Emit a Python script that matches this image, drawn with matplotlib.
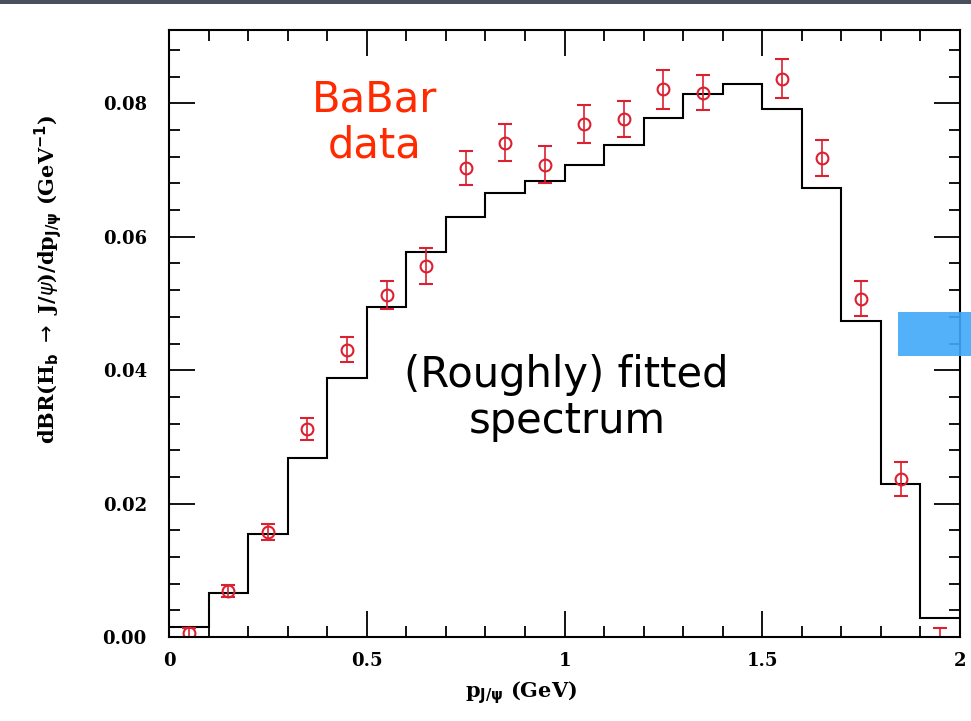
import numpy as np
import matplotlib
matplotlib.use("Agg")
import matplotlib.pyplot as plt
from matplotlib.patches import Rectangle
from matplotlib.ticker import MultipleLocator, FixedLocator, FixedFormatter

# Fitted spectrum: 0.1 GeV bins from 0 to 2 GeV
bin_edges = [0.0, 0.1, 0.2, 0.3, 0.4, 0.5, 0.6, 0.7, 0.8, 0.9, 1.0,
             1.1, 1.2, 1.3, 1.4, 1.5, 1.6, 1.7, 1.8, 1.9, 2.0]
fit_values = [0.0015, 0.0066, 0.0154, 0.0268, 0.0389, 0.0494, 0.0577, 0.0630,
              0.0665, 0.0683, 0.0708, 0.0738, 0.0778, 0.0814, 0.0829, 0.0792,
              0.0673, 0.0474, 0.0229, 0.0029]

# Measured points (BaBar)
p_data = [0.05, 0.15, 0.25, 0.35, 0.45, 0.55, 0.65, 0.75, 0.85, 0.95,
          1.05, 1.15, 1.25, 1.35, 1.55, 1.65, 1.75, 1.85, 1.95]
br_data = [0.0006, 0.0069, 0.0158, 0.0312, 0.0431, 0.0513, 0.0556, 0.0703,
           0.0741, 0.0708, 0.0769, 0.0776, 0.0821, 0.0816, 0.0837, 0.0718,
           0.0507, 0.0237, -0.0012]
br_err = [0.0007, 0.0009, 0.0012, 0.0017, 0.0019, 0.0021, 0.0027, 0.0026,
          0.0028, 0.0028, 0.0029, 0.0027, 0.0029, 0.0026, 0.0029, 0.0027,
          0.0026, 0.0025, 0.0026]

x_ticks = [0, 0.5, 1, 1.5, 2]
x_ticklabels = ["0", "0.5", "1", "1.5", "2"]
y_ticks = [0.00, 0.02, 0.04, 0.06, 0.08]
y_ticklabels = ["0.00", "0.02", "0.04", "0.06", "0.08"]

W, H = 971, 721
fig = plt.figure(figsize=(W / 100, H / 100), dpi=100)
fig.patch.set_facecolor("white")

def fx(px):
    return px / W

def fy(py):
    return 1 - py / H

ax_l, ax_r, ax_t, ax_b = 169, 960, 30, 637
ax = fig.add_axes([fx(ax_l), fy(ax_b), (ax_r - ax_l) / W, (ax_b - ax_t) / H])

ax.stairs(fit_values, bin_edges, color="black", linewidth=1.5, baseline=None)

red = "#dc2030"
ax.errorbar(p_data, br_data, yerr=br_err, fmt="o", color=red,
            markerfacecolor="none", markeredgecolor=red, markersize=8.5,
            markeredgewidth=1.5, elinewidth=1.2, capsize=5, capthick=1.2,
            clip_on=True)

ax.set_xlim(0, 2)
ax.set_ylim(0, 0.091)

for s in ax.spines.values():
    s.set_linewidth(1.5)

ax.xaxis.set_major_locator(FixedLocator(x_ticks))
ax.xaxis.set_major_formatter(FixedFormatter(x_ticklabels))
ax.xaxis.set_minor_locator(MultipleLocator(0.1))
ax.yaxis.set_major_locator(FixedLocator(y_ticks))
ax.yaxis.set_major_formatter(FixedFormatter(y_ticklabels))
ax.yaxis.set_minor_locator(MultipleLocator(0.004))

ax.tick_params(which="both", direction="in", top=True, right=True, width=1.3)
ax.tick_params(which="major", length=19)
ax.tick_params(which="minor", length=8)
ax.tick_params(axis="x", which="major", pad=11)
ax.tick_params(axis="y", which="major", pad=16)

for lab in ax.get_xticklabels() + ax.get_yticklabels():
    lab.set_fontfamily("DejaVu Serif")
    lab.set_fontweight("bold")
    lab.set_fontsize(13)

# Axis titles
fig.text(fx(521), fy(693), r"p$_{\mathbf{J/\psi}}$ (GeV)", ha="center", va="center",
         family="DejaVu Serif", weight="bold", fontsize=15)
fig.text(fx(48), fy(279),
         r"dBR(H$_\mathbf{b}$ $\rightarrow$ J/$\psi$)/dp$_{\mathbf{J/\psi}}$ (GeV$^{\mathbf{-1}}$)",
         ha="center", va="center", rotation=90,
         family="DejaVu Serif", weight="bold", fontsize=15)

# Annotations
ann_red = "#ff2a00"
fig.text(fx(375), fy(111), "BaBar", ha="center", va="baseline",
         color=ann_red, family="DejaVu Sans", fontsize=30)
fig.text(fx(375), fy(158), "data", ha="center", va="baseline",
         color=ann_red, family="DejaVu Sans", fontsize=30)
fig.text(fx(566), fy(387), "(Roughly) fitted", ha="center", va="baseline",
         color="black", family="DejaVu Sans", fontsize=30)
fig.text(fx(567), fy(433), "spectrum", ha="center", va="baseline",
         color="black", family="DejaVu Sans", fontsize=30)

# Header strip and side marker
fig.add_artist(Rectangle((0, fy(4)), 1, 4 / H, transform=fig.transFigure,
                         facecolor="#4a4f5e", edgecolor="none"))
fig.add_artist(Rectangle((fx(898), fy(356)), (W - 898) / W, 44 / H,
                         transform=fig.transFigure, facecolor="#3fa9f8",
                         edgecolor="none", alpha=0.9, zorder=10))

fig.savefig("out.png", dpi=100)
